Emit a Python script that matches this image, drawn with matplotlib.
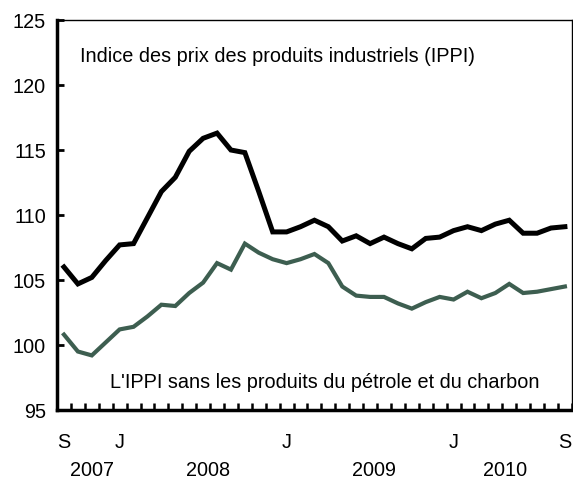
import matplotlib.pyplot as plt
import numpy as np

plt.rcParams['font.family'] = ['Liberation Sans', 'DejaVu Sans']

# Monthly data, Sep 2007 - Sep 2010
ippi = [106.0, 104.7, 105.2, 106.5, 107.7, 107.8, 109.8, 111.8, 112.9, 114.9,
        115.9, 116.3, 115.0, 114.8, 111.8, 108.7, 108.7, 109.1, 109.6, 109.1,
        108.0, 108.4, 107.8, 108.3, 107.8, 107.4, 108.2, 108.3, 108.8, 109.1,
        108.8, 109.3, 109.6, 108.6, 108.6, 109.0, 109.1]
ippi_core = [100.8, 99.5, 99.2, 100.2, 101.2, 101.4, 102.2, 103.1, 103.0, 104.0,
             104.8, 106.3, 105.8, 107.8, 107.1, 106.6, 106.3, 106.6, 107.0, 106.3,
             104.5, 103.8, 103.7, 103.7, 103.2, 102.8, 103.3, 103.7, 103.5, 104.1,
             103.6, 104.0, 104.7, 104.0, 104.1, 104.3, 104.5]

month_labels = ['S', 'J', 'J', 'J', 'S']
month_pos = [0, 4, 16, 28, 36]
years = ['2007', '2008', '2009', '2010']
year_pos = [2.5, 10.85, 22.8, 32.2]

x = np.arange(len(ippi)) + 0.5
fs = 14.3

fig = plt.figure(figsize=(5.73, 4.80), dpi=100)
ax = fig.add_axes([0.0995, 0.1458, 0.8985, 0.8125])

ax.plot(x, ippi, color='black', lw=3.6, solid_joinstyle='miter')
ax.plot(x, ippi_core, color='#3d5e50', lw=3.0, solid_joinstyle='miter')

ax.set_xlim(0, len(ippi))
ax.set_ylim(95, 125)
ax.set_yticks(np.arange(95, 126, 5))
ax.tick_params(axis='y', direction='in', length=5, width=2, labelsize=fs, pad=8)
ax.set_xticks(np.arange(0, len(ippi) + 1))
ax.set_xticklabels([])
ax.tick_params(axis='x', direction='in', length=5, width=1.8)

for s in ['left', 'bottom']:
    ax.spines[s].set_linewidth(2.5)
for s in ['top', 'right']:
    ax.spines[s].set_linewidth(1.0)

trans = ax.get_xaxis_transform()
for lab, p in zip(month_labels, month_pos):
    ax.text(p + 0.5, -0.083, lab, transform=trans, ha='center', va='center', fontsize=fs)
for lab, p in zip(years, year_pos):
    ax.text(p, -0.155, lab, transform=trans, ha='center', va='center', fontsize=fs)

ax.text(1.65, 122.2, 'Indice des prix des produits industriels (IPPI)',
        ha='left', va='center', fontsize=fs)
ax.text(3.8, 97.15, "L'IPPI sans les produits du pétrole et du charbon",
        ha='left', va='center', fontsize=fs)

plt.savefig('out.png', dpi=100)
